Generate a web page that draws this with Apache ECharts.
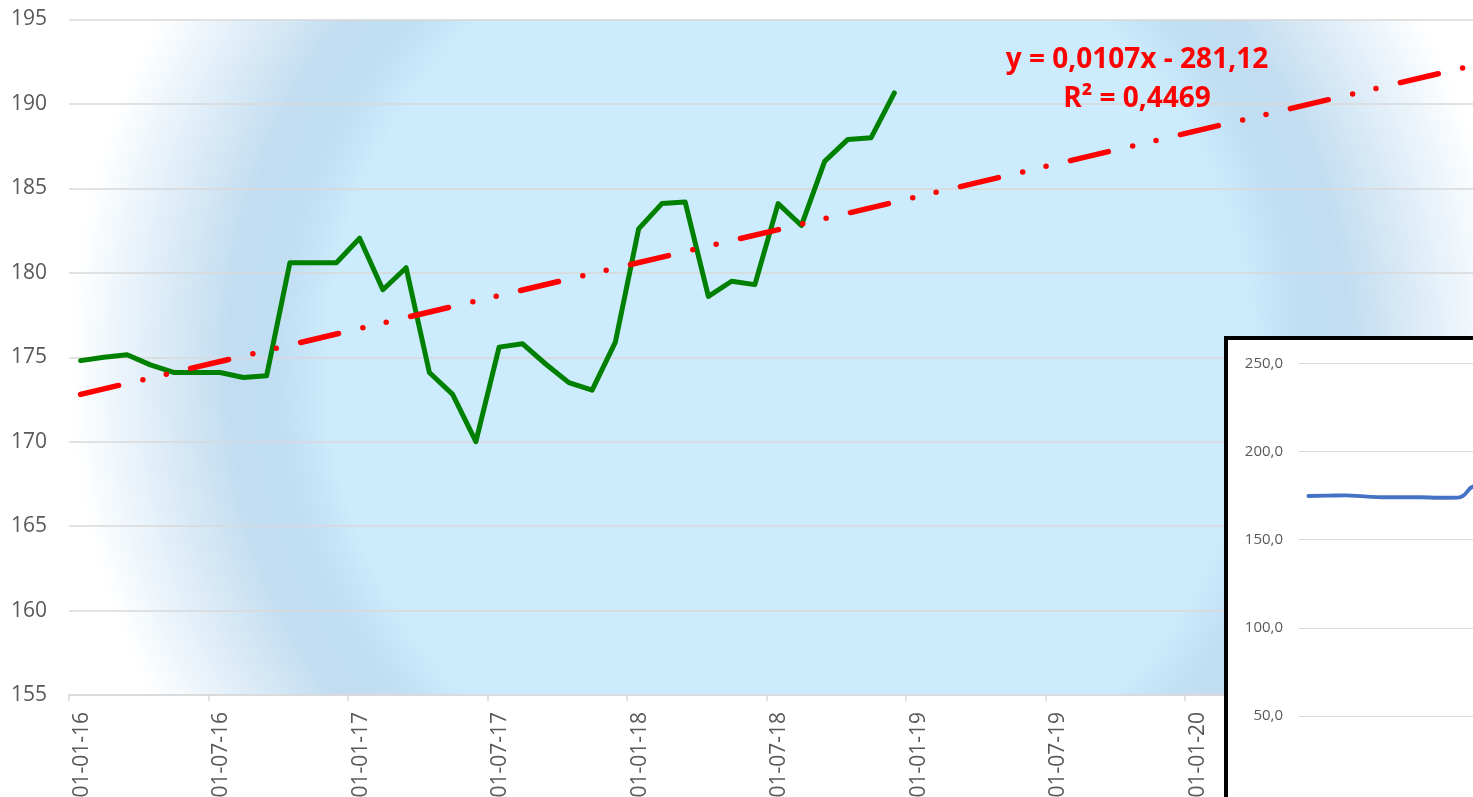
<!DOCTYPE html>
<html>
<head>
<meta charset="utf-8">
<script src="https://cdn.jsdelivr.net/npm/echarts@6/dist/echarts.min.js"></script>
<style>
  html, body { margin: 0; padding: 0; overflow: hidden; background: #fff; }
  #chart { width: 2000px; height: 900px; }
</style>
</head>
<body>
<div id="chart"></div>
<script>
// one point per month, plotted in the middle of the month
const months = [
  '2016-01', '2016-02', '2016-03', '2016-04', '2016-05', '2016-06',
  '2016-07', '2016-08', '2016-09', '2016-10', '2016-11', '2016-12',
  '2017-01', '2017-02', '2017-03', '2017-04', '2017-05', '2017-06',
  '2017-07', '2017-08', '2017-09', '2017-10', '2017-11', '2017-12',
  '2018-01', '2018-02', '2018-03', '2018-04', '2018-05', '2018-06',
  '2018-07', '2018-08', '2018-09', '2018-10', '2018-11', '2018-12'
];
const values = [
  174.8, 175.0, 175.15, 174.55, 174.1, 174.1, 174.1, 173.8, 173.9, 180.6, 180.6, 180.6,
  182.05, 179.0, 180.3, 174.1, 172.8, 170.0, 175.6, 175.8, 174.6, 173.5, 173.05, 175.9,
  182.6, 184.1, 184.2, 178.6, 179.5, 179.3, 184.1, 182.8, 186.6, 187.9, 188.0, 190.65
];
// linear trendline, end points ([months since 01-2016, value])
const trendStart = [0.5, 172.8];
const trendEnd = [62, 192.8];
const trendText = 'y = 0,0107x - 281,12\nR² = 0,4469';

// main axis: 155..195 step 5, months 0..62 with a tick every 6 months
const yMin = 155, yMax = 195, yStep = 5;
const xMonths = 62, xStep = 6;
// small embedded chart: 0..250 step 50
const insetMin = 0, insetMax = 250, insetStep = 50;

const grey = '#595959';
const gridGrey = '#d9d9d9';

function monthLabel(v) {
  const m = v % 12 + 1;
  const y = 16 + Math.floor(v / 12);
  // empty first line pushes the rotated text a bit to the right of its tick
  return '\n' + '01-' + String(m).padStart(2, '0') + '-' + y;
}

const mainData = values.map((v, i) => [i + 0.5, v]);

const chart = echarts.init(document.getElementById('chart'), null, { renderer: 'canvas' });

const option = {
  animation: false,
  grid: [
    {
      left: 69, top: 19.5, width: 1441.5, height: 675.5,
      show: true, borderWidth: 0,
      // radial fill of the plot area: light centre, slightly darker ring, white corners
      backgroundColor: {
        type: 'radial', x: 0.5, y: 0.51, r: 1.066,
        colorStops: [
          { offset: 0, color: '#CCEBFC' },
          { offset: 0.64, color: '#CCEBFC' },
          { offset: 0.71, color: '#C1DEF3' },
          { offset: 0.78, color: '#C2DDF1' },
          { offset: 1, color: '#FFFFFF' }
        ]
      }
    },
    { left: 1299, top: 363.5, width: 673, height: 440.5 }
  ],
  xAxis: [
    {
      type: 'value', gridIndex: 0,
      min: 0, max: xMonths, interval: xStep,
      axisLine: { show: true, lineStyle: { color: gridGrey, width: 1.5 } },
      axisTick: { show: true, length: 6, lineStyle: { color: gridGrey, width: 1.5 } },
      splitLine: { show: false },
      axisLabel: {
        rotate: 90, margin: 17, color: grey,
        fontFamily: '"Open Sans", sans-serif',
        fontSize: 21, lineHeight: 26,
        formatter: monthLabel
      }
    },
    {
      type: 'category', gridIndex: 1, data: months, boundaryGap: true, show: false
    }
  ],
  yAxis: [
    {
      type: 'value', gridIndex: 0,
      min: yMin, max: yMax, interval: yStep,
      axisLine: { show: false }, axisTick: { show: false },
      splitLine: { lineStyle: { color: gridGrey, width: 1.5 } },
      axisLabel: { color: grey, fontFamily: '"Open Sans", sans-serif', fontSize: 21, margin: 22 }
    },
    {
      type: 'value', gridIndex: 1, z: 10,
      min: insetMin, max: insetMax, interval: insetStep,
      axisLine: { show: false }, axisTick: { show: false },
      splitLine: { lineStyle: { color: gridGrey, width: 1 } },
      axisLabel: {
        color: grey, fontFamily: '"Open Sans", sans-serif', fontSize: 15, margin: 16,
        formatter: v => v.toFixed(1).replace('.', ',')
      }
    }
  ],
  series: [
    {
      type: 'line', xAxisIndex: 0, yAxisIndex: 0,
      data: mainData, symbol: 'none',
      lineStyle: { color: '#008000', width: 5, join: 'round', cap: 'round' }
    },
    {
      type: 'line', xAxisIndex: 0, yAxisIndex: 0,
      data: [trendStart, trendEnd], symbol: 'none', z: 3,
      lineStyle: { color: '#FF0000', width: 5.5, cap: 'round', type: [39, 25, 0, 24, 0, 25] }
    },
    {
      type: 'line', xAxisIndex: 1, yAxisIndex: 1, z: 10,
      data: values, symbol: 'none', smooth: true,
      lineStyle: { color: '#4472C4', width: 3.8, cap: 'round' }
    }
  ],
  graphic: [
    {
      type: 'rect', z: 5, silent: true,
      shape: { x: 1226, y: 338, width: 900, height: 700 },
      style: { fill: '#ffffff', stroke: '#000000', lineWidth: 4 }
    },
    {
      type: 'text', z: 10, silent: true, x: 1137, y: 40.5,
      style: {
        text: trendText, fill: '#FF0000',
        font: 'bold 28px "Open Sans", sans-serif',
        align: 'center', verticalAlign: 'top', lineHeight: 39
      }
    }
  ]
};

chart.setOption(option);
</script>
</body>
</html>
